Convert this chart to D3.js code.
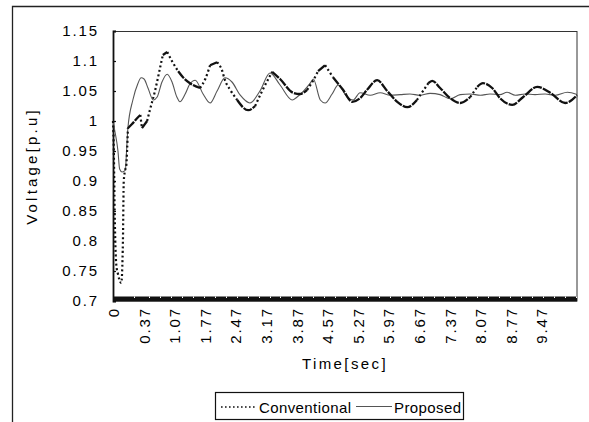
<!DOCTYPE html>
<html>
<head>
<meta charset="utf-8">
<script src="https://cdn.jsdelivr.net/npm/d3@7/dist/d3.min.js"></script>
<style>
  html, body { margin: 0; padding: 0; background: #fff; }
  svg { display: block; }
  text { font-family: "Liberation Sans", Arial, sans-serif; fill: #000; }
</style>
</head>
<body>
<svg id="chart" width="589" height="422"></svg>
<script>
// ---- data ----
const timeTickLabels = [0, 0.37, 1.07, 1.77, 2.47, 3.17, 3.87, 4.57, 5.27, 5.97, 6.67, 7.37, 8.07, 8.77, 9.47];
const voltageTicks = [0.7, 0.75, 0.8, 0.85, 0.9, 0.95, 1, 1.05, 1.1, 1.15];
const seriesNames = ["Conventional", "Proposed"];

const convTime = [0, 0.01, 0.02, 0.04, 0.06, 0.10, 0.12, 0.13, 0.15, 0.16, 0.17, 0.18, 0.23, 0.28, 0.33,
  0.35, 0.45, 0.52, 0.63, 0.75, 0.81, 0.91, 1.04, 1.16, 1.27, 1.43, 1.66, 1.78, 1.89, 2.05,
  2.16, 2.23, 2.35, 2.51, 2.76, 2.92, 3.08, 3.31, 3.49, 3.79, 3.95, 4.11, 4.25, 4.36, 4.52,
  4.70, 4.93, 5.14, 5.32, 5.48, 5.71, 5.94, 6.17, 6.40, 6.62, 6.88, 6.97, 7.15, 7.38, 7.61,
  7.84, 8.00, 8.13, 8.34, 8.52, 8.80, 9.05, 9.37, 9.67, 10.01, 10.28];
const convVolt = [1.0, 0.95, 0.85, 0.76, 0.745, 0.73, 0.80, 0.90, 0.92, 0.925, 0.95, 0.988, 0.995, 1.003, 1.01,
  0.988, 1.0, 1.02, 1.05, 1.09, 1.11, 1.115, 1.097, 1.083, 1.073, 1.063, 1.055, 1.07, 1.093, 1.098,
  1.085, 1.068, 1.052, 1.035, 1.018, 1.025, 1.05, 1.082, 1.07, 1.047, 1.045, 1.052, 1.068, 1.083, 1.093,
  1.073, 1.052, 1.032, 1.038, 1.052, 1.068, 1.05, 1.032, 1.023, 1.035, 1.063, 1.067, 1.055, 1.038, 1.03,
  1.04, 1.057, 1.063, 1.055, 1.038, 1.027, 1.04, 1.057, 1.047, 1.03, 1.043];

const propTime = [0, 0.02, 0.06, 0.08, 0.11, 0.15, 0.16, 0.18, 0.24, 0.30, 0.34, 0.38, 0.47, 0.59, 0.68,
  0.79, 0.91, 1.02, 1.13, 1.20, 1.32, 1.43, 1.55, 1.73, 1.89, 2.05, 2.23, 2.39, 2.58, 2.80,
  3.03, 3.26, 3.49, 3.77, 3.88, 4.18, 4.25, 4.41, 4.52, 4.68, 4.82, 5.02, 5.16, 5.32, 5.55,
  5.78, 6.01, 6.24, 6.46, 6.69, 6.92, 7.15, 7.38, 7.61, 7.84, 8.07, 8.29, 8.52, 8.68, 8.87,
  9.09, 9.32, 9.55, 9.78, 10.06, 10.28];
const propVolt = [1.0, 0.985, 0.95, 0.92, 0.915, 0.918, 0.94, 0.988, 1.035, 1.062, 1.072, 1.07, 1.055, 1.035, 1.04,
  1.065, 1.078, 1.065, 1.04, 1.032, 1.045, 1.062, 1.068, 1.045, 1.03, 1.05, 1.072, 1.065, 1.043, 1.03,
  1.05, 1.08, 1.06, 1.035, 1.04, 1.063, 1.07, 1.035, 1.03, 1.045, 1.06, 1.04, 1.035, 1.047, 1.043,
  1.047, 1.043, 1.044, 1.045, 1.043, 1.046, 1.044, 1.037, 1.044, 1.045, 1.043, 1.045, 1.044, 1.048, 1.043,
  1.045, 1.044, 1.045, 1.043, 1.048, 1.044];

// ---- layout ----
const W = 589, H = 422;
const plot = { left: 113, right: 577, top: 31, bottom: 301 };
const FONT = 15, LS = "1.9px";

const svg = d3.select("#chart");
svg.append("rect").attr("width", W).attr("height", H).attr("fill", "#fff");

// outer chart frame
svg.append("path")
  .attr("d", `M12.5,${H + 2} L12.5,6.5 L${W + 2},6.5`)
  .attr("fill", "none").attr("stroke", "#222").attr("stroke-width", 1.3);

// scales: category-style axis (first step 0 -> 0.37 is as wide as each 0.7 s step)
const tEnd = convTime[convTime.length - 1];
const step = (plot.right - plot.left) / (timeTickLabels.length - 1 + (tEnd - timeTickLabels[timeTickLabels.length - 1]) / 0.7);
const x = d3.scaleLinear()
  .domain([0, timeTickLabels[1], tEnd])
  .range([plot.left, plot.left + step, plot.right]);
const y = d3.scaleLinear()
  .domain([0.7, 1.15])
  .range([plot.bottom, plot.top]);

// plot frame
svg.append("rect")
  .attr("x", plot.left + 0.5).attr("y", plot.top + 0.5)
  .attr("width", plot.right - plot.left - 0.5).attr("height", plot.bottom - plot.top - 0.5)
  .attr("fill", "none").attr("stroke", "#333").attr("stroke-width", 1);

// y axis
const yAxis = svg.append("g")
  .attr("transform", `translate(${plot.left},0)`)
  .call(d3.axisLeft(y).tickValues(voltageTicks).tickSize(-3).tickPadding(14)
    .tickFormat(d => d3.format("")(+d.toFixed(2))));
yAxis.select(".domain").attr("stroke", "#111").attr("stroke-width", 1.8);
yAxis.selectAll(".tick line").attr("stroke", "#111").attr("stroke-width", 1.2);
yAxis.selectAll("text")
  .attr("font-size", FONT).attr("letter-spacing", LS)
  .attr("font-family", "Liberation Sans, Arial, sans-serif").attr("fill", "#000");

// x axis (thick band of dense tick marks)
const xAxis = svg.append("g")
  .attr("transform", `translate(0,${plot.bottom})`)
  .call(d3.axisBottom(x).tickValues(timeTickLabels).tickSize(0).tickPadding(6)
    .tickFormat(d => String(d)));
xAxis.select(".domain").remove();
xAxis.selectAll(".tick line").remove();
xAxis.selectAll("text")
  .attr("font-size", FONT).attr("letter-spacing", LS)
  .attr("font-family", "Liberation Sans, Arial, sans-serif").attr("fill", "#000")
  .attr("transform", "rotate(-90)")
  .attr("text-anchor", "end")
  .attr("x", -6).attr("y", 0).attr("dy", "0.36em");

svg.append("line")
  .attr("x1", plot.left).attr("x2", plot.right)
  .attr("y1", plot.bottom - 2).attr("y2", plot.bottom - 2)
  .attr("stroke", "#111").attr("stroke-width", 5);
svg.append("g").selectAll("line")
  .data(d3.range(0.25, tEnd, 0.25))
  .join("line")
  .attr("x1", d => Math.round(x(d)) + 0.5).attr("x2", d => Math.round(x(d)) + 0.5)
  .attr("y1", plot.bottom - 4.5).attr("y2", plot.bottom - 3)
  .attr("stroke", "#fff").attr("stroke-width", 1);

// axis titles
svg.append("text")
  .attr("transform", `translate(37,${(plot.top + plot.bottom) / 2}) rotate(-90)`)
  .attr("text-anchor", "middle").attr("font-size", FONT).attr("letter-spacing", "3.2px")
  .text("Voltage[p.u]");
svg.append("text")
  .attr("x", (plot.left + plot.right) / 2).attr("y", 369)
  .attr("text-anchor", "middle").attr("font-size", FONT).attr("letter-spacing", "2.4px")
  .text("Time[sec]");

// ---- lines ----
const line = d3.line().x(d => x(d[0])).y(d => y(d[1])).curve(d3.curveMonotoneX);

const propData = propTime.map((t, i) => [t, propVolt[i]]);
svg.append("path")
  .datum(propData)
  .attr("d", line)
  .attr("fill", "none").attr("stroke", "#555").attr("stroke-width", 1.1);

// Conventional: steep stretches render dotted, gentle stretches look solid (dense dots)
const convData = convTime.map((t, i) => [t, convVolt[i]]);
const groups = [];
for (let i = 0; i < convData.length - 1; i++) {
  const a = convData[i], b = convData[i + 1];
  const slope = Math.abs((y(b[1]) - y(a[1])) / (x(b[0]) - x(a[0])));
  const steep = slope > 1.45;
  const last = groups[groups.length - 1];
  if (last && last.steep === steep) last.pts.push(b);
  else groups.push({ steep, pts: [a, b] });
}
svg.append("g").selectAll("path")
  .data(groups)
  .join("path")
  .attr("d", d => line(d.pts))
  .attr("fill", "none").attr("stroke", "#111")
  .attr("stroke-width", d => d.steep ? 2.2 : 2.3)
  .attr("stroke-dasharray", d => d.steep ? "2,2.6" : "9,1.2");

// ---- legend ----
const lg = svg.append("g");
lg.append("rect")
  .attr("x", 215.5).attr("y", 392.5).attr("width", 248).attr("height", 27)
  .attr("fill", "#fff").attr("stroke", "#111").attr("stroke-width", 1.2);
lg.append("line")
  .attr("x1", 221).attr("x2", 256).attr("y1", 407).attr("y2", 407)
  .attr("stroke", "#111").attr("stroke-width", 1.6).attr("stroke-dasharray", "1.6,2.4");
lg.append("text").attr("x", 259).attr("y", 412.5)
  .attr("font-size", FONT).attr("letter-spacing", "0.4px").text(seriesNames[0]);
lg.append("line")
  .attr("x1", 356).attr("x2", 392).attr("y1", 406.5).attr("y2", 406.5)
  .attr("stroke", "#555").attr("stroke-width", 1.2);
lg.append("text").attr("x", 394).attr("y", 412.5)
  .attr("font-size", FONT).attr("letter-spacing", "0.4px").text(seriesNames[1]);
</script>
</body>
</html>
